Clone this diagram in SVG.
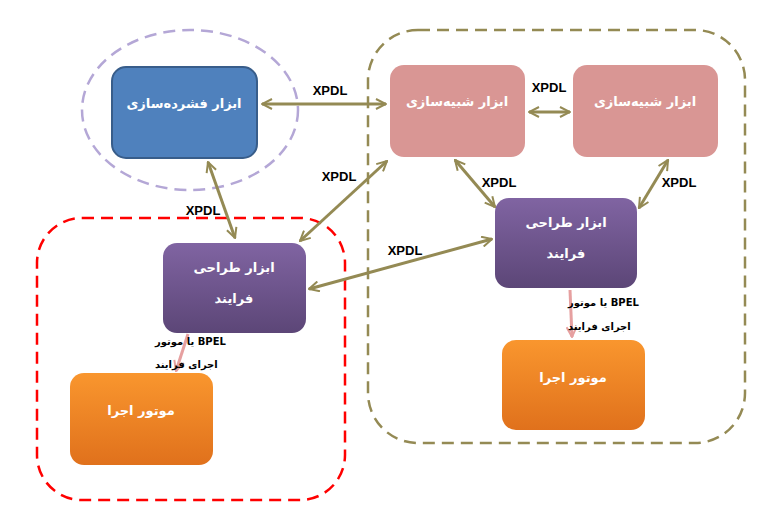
<svg xmlns="http://www.w3.org/2000/svg" width="763" height="513" viewBox="0 0 763 513">
<defs>
<linearGradient id="gp" x1="0" y1="0" x2="0" y2="1"><stop offset="0" stop-color="#8064a2"/><stop offset="1" stop-color="#5c4677"/></linearGradient>
<linearGradient id="go" x1="0" y1="0" x2="0" y2="1"><stop offset="0" stop-color="#f9962e"/><stop offset="1" stop-color="#e0711c"/></linearGradient>
<marker id="a" viewBox="0 0 12 12" refX="11" refY="6" markerWidth="4" markerHeight="4" orient="auto-start-reverse" markerUnits="strokeWidth"><path d="M1,1 L11,6 L1,11" fill="none" stroke="#948a54" stroke-width="2"/></marker>
<marker id="p" viewBox="0 0 12 12" refX="11" refY="6" markerWidth="4" markerHeight="4" orient="auto" markerUnits="strokeWidth"><path d="M1,1 L11,6 L1,11" fill="none" stroke="#e6a0a0" stroke-width="2"/></marker>
</defs>
<style>
.t{font-family:"DejaVu Sans","Noto Sans",sans-serif;font-weight:bold;font-size:13px;fill:#fff;text-anchor:middle}
.l{font-family:"Liberation Sans","DejaVu Sans",sans-serif;font-weight:bold;font-size:13px;fill:#000;text-anchor:middle}
.s{font-family:"DejaVu Sans","Liberation Sans",sans-serif;font-weight:bold;font-size:10px;fill:#000;text-anchor:end}
.c{stroke:#948a54;stroke-width:3;fill:none;marker-start:url(#a);marker-end:url(#a)}
.pc{stroke:#e6a0a0;stroke-width:3;fill:none;marker-end:url(#p)}
</style>
<rect width="763" height="513" fill="#fff"/>
<g id="regions" fill="none" stroke-width="2.5" stroke-dasharray="12,7">
<ellipse cx="190" cy="110" rx="108" ry="80" stroke="#b4a7d6"/>
<rect x="368" y="30" width="377" height="413" rx="50" stroke="#948a54"/>
<rect x="37" y="218" width="308" height="282" rx="45" stroke="#ff0000"/>
</g>
<g id="n1"><rect x="112" y="67" width="145" height="91" rx="14" fill="#4f81bd" stroke="#385d8a" stroke-width="2"/><text class="t" x="184" y="108" direction="rtl">ابزار فشرده‌سازی</text></g>
<g id="n2"><rect x="390" y="65" width="135" height="92" rx="14" fill="#d99694"/><text class="t" x="457" y="106" direction="rtl">ابزار شبیه‌سازی</text></g>
<g id="n3"><rect x="573" y="65" width="145" height="92" rx="14" fill="#d99694"/><text class="t" x="645" y="106" direction="rtl">ابزار شبیه‌سازی</text></g>
<g id="n4"><rect x="163" y="243" width="143" height="90" rx="14" fill="url(#gp)"/><text class="t" x="234" y="272" direction="rtl">ابزار طراحی</text><text class="t" x="234" y="303" direction="rtl">فرایند</text></g>
<g id="n5"><rect x="495" y="198" width="142" height="90" rx="14" fill="url(#gp)"/><text class="t" x="566" y="227" direction="rtl">ابزار طراحی</text><text class="t" x="566" y="258" direction="rtl">فرایند</text></g>
<g id="n6"><rect x="70" y="373" width="143" height="92" rx="14" fill="url(#go)"/><text class="t" x="141" y="415" direction="rtl">موتور اجرا</text></g>
<g id="n7"><rect x="502" y="340" width="143" height="90" rx="14" fill="url(#go)"/><text class="t" x="573" y="382" direction="rtl">موتور اجرا</text></g>
<g id="connectors">
<path class="c" d="M262,104 L386,104"/>
<path class="c" d="M208,162 L235,238"/>
<path class="c" d="M387,161 L300,241"/>
<path class="c" d="M529,112 L570,112"/>
<path class="c" d="M455,160 L495,207"/>
<path class="c" d="M668,160 L639,208"/>
<path class="c" d="M309,289 L492,239"/>
<path class="pc" d="M188,334 L176,371"/>
<path class="pc" d="M570,290 L572,337"/>
</g>
<g id="labels">
<text class="l" x="330" y="95">XPDL</text>
<text class="l" x="203" y="215">XPDL</text>
<text class="l" x="339" y="181">XPDL</text>
<text class="l" x="549" y="92">XPDL</text>
<text class="l" x="499" y="187">XPDL</text>
<text class="l" x="679" y="187">XPDL</text>
<text class="l" x="405" y="255">XPDL</text>
<text class="s" x="155" y="345" direction="rtl" text-anchor="start">BPEL  یا  موتور</text>
<text class="s" x="155" y="368" direction="rtl" text-anchor="start">اجرای فرایند</text>
<text class="s" x="568" y="306" direction="rtl" text-anchor="start">BPEL  یا  موتور</text>
<text class="s" x="568" y="330" direction="rtl" text-anchor="start">اجرای فرایند</text>
</g>
</svg>
